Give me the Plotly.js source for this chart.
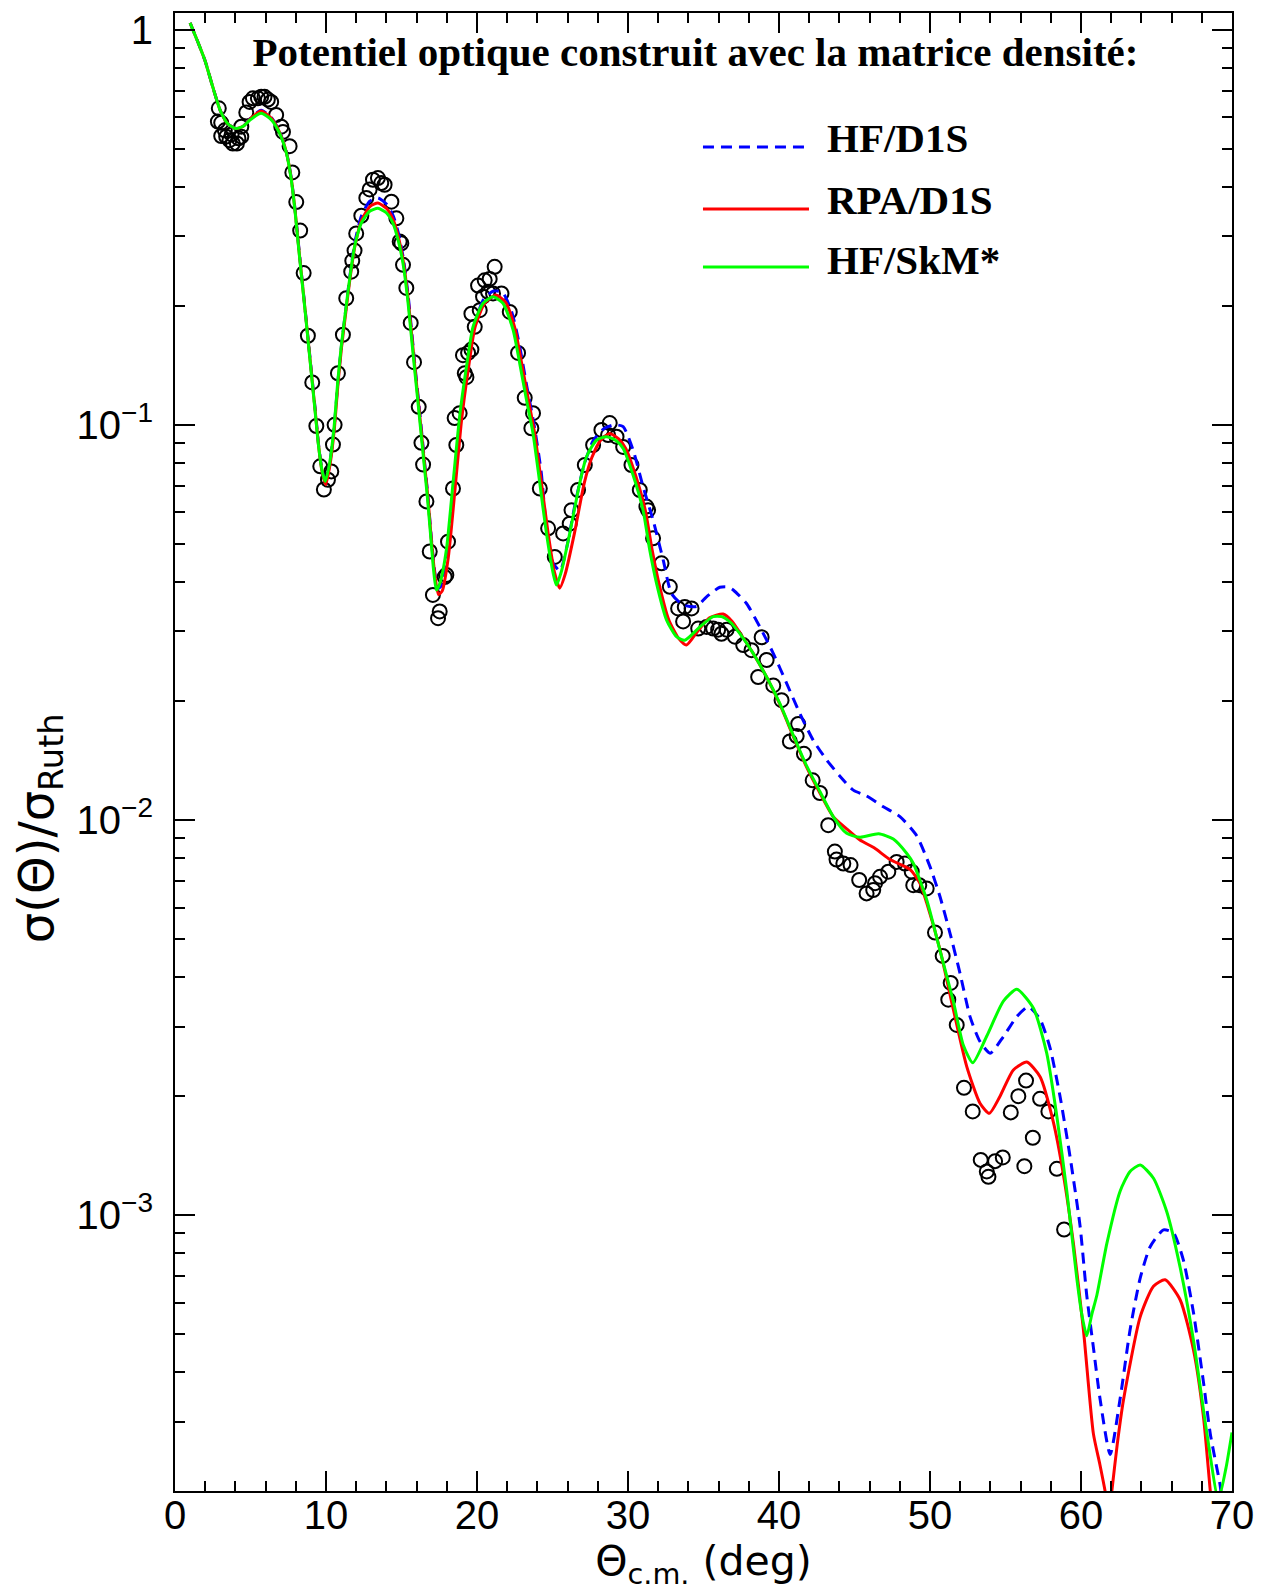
<!DOCTYPE html>
<html>
<head>
<meta charset="utf-8">
<script src="https://cdn.plot.ly/plotly-3.0.1.min.js"></script>
<style>html,body{margin:0;padding:0;background:#fff;}</style>
</head>
<body>
<div id="chart" style="width:1268px;height:1591px;"></div>
<script>
// Experimental data (open circles)
const expTheta = [2.84, 2.90, 3.06, 3.06, 3.30, 3.39, 3.61, 3.75, 3.83, 4.10,
 4.20, 4.39, 4.39, 4.72, 4.94, 5.16, 5.49, 5.71, 5.93, 6.15,
 6.37, 6.70, 7.04, 7.15, 7.59, 7.77, 8.03, 8.29, 8.52, 8.80,
 9.09, 9.36, 9.62, 9.86, 10.13, 10.35, 10.46, 10.57, 10.79, 11.12,
 11.34, 11.67, 11.74, 11.89, 12.00, 12.34, 12.67, 12.89, 13.11, 13.44,
 13.66, 13.88, 14.33, 14.66, 14.88, 14.99, 15.10, 15.32, 15.61, 15.83,
 16.14, 16.32, 16.43, 16.65, 16.87, 17.08, 17.42, 17.53, 17.86, 17.97,
 18.08, 18.41, 18.52, 18.63, 18.85, 19.07, 19.19, 19.30, 19.41, 19.63,
 19.63, 19.85, 20.07, 20.18, 20.40, 20.51, 20.73, 20.84, 21.06, 21.17,
 21.62, 22.17, 22.72, 23.16, 23.60, 23.71, 24.16, 24.71, 25.15, 25.70,
 26.14, 26.26, 26.69, 27.14, 27.69, 28.24, 28.68, 28.79, 29.24, 29.68,
 30.23, 30.78, 31.22, 31.33, 31.66, 32.22, 32.77, 33.32, 33.65, 33.76,
 34.21, 34.65, 35.20, 35.64, 35.97, 36.19, 36.53, 37.08, 37.63, 38.18,
 38.62, 38.85, 39.18, 39.62, 40.17, 40.72, 41.17, 41.27, 41.65, 42.23,
 42.71, 43.26, 43.70, 43.81, 44.26, 44.74, 45.31, 45.80, 46.24, 46.36,
 46.69, 47.24, 47.79, 48.34, 48.79, 48.89, 49.29, 49.78, 50.33, 50.84,
 51.21, 51.37, 51.77, 52.25, 52.83, 53.36, 53.76, 53.87, 54.31, 54.82,
 55.35, 55.85, 56.25, 56.36, 56.81, 57.29, 57.84, 58.40, 58.88];
const expSigma = [0.585, 0.632, 0.581, 0.538, 0.556, 0.536, 0.525, 0.543, 0.515, 0.515,
 0.531, 0.536, 0.568, 0.617, 0.656, 0.670, 0.670, 0.676, 0.676, 0.665,
 0.656, 0.608, 0.568, 0.551, 0.507, 0.435, 0.366, 0.310, 0.242, 0.168,
 0.128, 0.0993, 0.0785, 0.0686, 0.0726, 0.0762, 0.0891, 0.100, 0.135, 0.169,
 0.209, 0.244, 0.260, 0.276, 0.305, 0.338, 0.375, 0.394, 0.417, 0.421,
 0.409, 0.405, 0.367, 0.333, 0.291, 0.288, 0.254, 0.222, 0.181, 0.144,
 0.111, 0.0900, 0.0793, 0.0640, 0.0478, 0.0371, 0.0324, 0.0337, 0.0412, 0.0417,
 0.0506, 0.0690, 0.104, 0.0889, 0.107, 0.150, 0.135, 0.132, 0.152, 0.155,
 0.191, 0.177, 0.225, 0.195, 0.211, 0.232, 0.217, 0.234, 0.215, 0.251,
 0.215, 0.193, 0.152, 0.117, 0.0980, 0.107, 0.0690, 0.0547, 0.0463, 0.0531,
 0.0562, 0.0608, 0.0684, 0.0791, 0.0889, 0.0970, 0.0942, 0.101, 0.0933, 0.0879,
 0.0791, 0.0684, 0.0621, 0.0608, 0.0516, 0.0446, 0.0389, 0.0343, 0.0318, 0.0346,
 0.0343, 0.0305, 0.0308, 0.0305, 0.0303, 0.0296, 0.0303, 0.0291, 0.0277, 0.0269,
 0.0230, 0.0290, 0.0254, 0.0219, 0.0201, 0.0158, 0.0163, 0.0175, 0.0147, 0.0126,
 0.0117, 0.00970, 0.00832, 0.00794, 0.00776, 0.00769, 0.00705, 0.00652, 0.00665, 0.00692,
 0.00718, 0.00740, 0.00783, 0.00776, 0.00740, 0.00684, 0.00684, 0.00671, 0.00519, 0.00453,
 0.00351, 0.00387, 0.00303, 0.00210, 0.00183, 0.00138, 0.00129, 0.00125, 0.00137, 0.00140,
 0.00182, 0.00200, 0.00133, 0.00219, 0.00157, 0.00197, 0.00183, 0.00131, 0.000920];

// HF/D1S (blue dashed)
const hfD1sTheta = [1.0, 1.5, 2.0, 2.5, 3.0, 3.5, 4.0, 4.5, 5.0, 5.7,
 6.37, 6.92, 7.37, 7.70, 7.96, 8.18, 8.40, 8.63, 8.85, 9.07,
 9.29, 9.51, 9.73, 9.96, 10.25, 10.53, 10.80, 11.02, 11.29, 11.57,
 11.90, 12.35, 12.90, 13.44, 14.00, 14.45, 14.80, 15.12, 15.42, 15.64,
 15.86, 16.08, 16.30, 16.52, 16.74, 16.98, 17.20, 17.40, 17.65, 18.05,
 18.50, 18.93, 19.37, 19.80, 20.45, 21.10, 21.70, 22.30, 22.80, 23.30,
 23.80, 24.25, 24.60, 25.04, 25.50, 26.00, 26.50, 27.10, 27.70, 28.40,
 29.10, 29.68, 30.34, 31.00, 31.66, 32.33, 32.88, 33.65, 34.54, 35.20,
 36.08, 36.60, 36.97, 37.85, 38.73, 39.62, 40.50, 41.38, 42.27, 43.15,
 44.04, 44.92, 45.80, 46.91, 48.01, 49.12, 50.00, 50.66, 51.33, 51.99,
 52.65, 53.31, 53.98, 54.86, 55.75, 56.52, 57.29, 57.95, 58.61, 59.27,
 59.94, 60.38, 60.82, 61.26, 61.93, 62.59, 63.25, 63.92, 64.58, 65.46,
 66.12, 66.79, 67.45, 68.11, 68.56, 69.20, 69.50, 70.0];
const hfD1sSigma = [1.04, 0.933, 0.832, 0.716, 0.624, 0.578, 0.562, 0.569, 0.596, 0.625,
 0.600, 0.553, 0.492, 0.421, 0.348, 0.286, 0.236, 0.194, 0.160, 0.132,
 0.109, 0.0890, 0.0772, 0.0716, 0.0800, 0.0975, 0.130, 0.158, 0.193, 0.236,
 0.288, 0.338, 0.368, 0.375, 0.362, 0.338, 0.305, 0.264, 0.216, 0.178,
 0.145, 0.120, 0.0990, 0.0810, 0.0665, 0.0515, 0.0425, 0.0385, 0.0392, 0.0475,
 0.0700, 0.104, 0.140, 0.178, 0.208, 0.218, 0.216, 0.193, 0.160, 0.125,
 0.0990, 0.0760, 0.0550, 0.0447, 0.0427, 0.0501, 0.0631, 0.0794, 0.0912, 0.0977,
 0.100, 0.0989, 0.0863, 0.0697, 0.0574, 0.0455, 0.0374, 0.0350, 0.0347, 0.0367,
 0.0388, 0.0389, 0.0382, 0.0353, 0.0308, 0.0264, 0.0222, 0.0186, 0.0159, 0.0142,
 0.0129, 0.0119, 0.0115, 0.0108, 0.0102, 0.00912, 0.00762, 0.00640, 0.00516, 0.00409,
 0.00318, 0.00275, 0.00257, 0.00283, 0.00318, 0.00337, 0.00313, 0.00265, 0.00200, 0.00141,
 0.000938, 0.000627, 0.000463, 0.000343, 0.000248, 0.000343, 0.000513, 0.000693, 0.000832, 0.000918,
 0.000902, 0.000767, 0.000566, 0.000378, 0.000280, 0.000209, 0.000178, 0.000178];

// RPA/D1S (red)
const rpaD1sTheta = [1.0, 1.5, 2.0, 2.5, 3.0, 3.5, 4.0, 4.5, 5.0, 5.7,
 6.37, 6.92, 7.37, 7.70, 7.96, 8.18, 8.40, 8.63, 8.85, 9.07,
 9.29, 9.51, 9.73, 9.98, 10.26, 10.54, 10.81, 11.03, 11.30, 11.58,
 11.92, 12.37, 12.92, 13.44, 14.00, 14.45, 14.80, 15.12, 15.41, 15.63,
 15.85, 16.07, 16.29, 16.51, 16.74, 16.98, 17.20, 17.45, 17.70, 18.10,
 18.55, 18.98, 19.42, 19.86, 20.50, 21.25, 21.90, 22.50, 22.93, 23.38,
 23.82, 24.27, 24.70, 25.12, 25.48, 25.85, 26.45, 27.10, 27.60, 28.20,
 28.80, 29.40, 29.85, 30.50, 31.15, 31.60, 32.05, 32.70, 33.35, 33.87,
 34.60, 35.40, 36.30, 36.90, 37.45, 38.29, 39.18, 40.06, 40.94, 41.83,
 42.71, 43.59, 44.48, 45.36, 46.30, 47.35, 48.67, 49.33, 49.78, 50.66,
 51.55, 52.43, 53.31, 53.93, 54.64, 55.52, 56.41, 57.29, 58.17, 58.83,
 59.50, 60.16, 60.82, 61.25, 61.60, 61.85, 62.04, 62.40, 62.81, 63.92,
 64.80, 65.57, 66.57, 67.45, 68.11, 68.56, 69.20, 70.0];
const rpaD1sSigma = [1.04, 0.933, 0.832, 0.716, 0.624, 0.578, 0.562, 0.569, 0.595, 0.622,
 0.597, 0.550, 0.490, 0.419, 0.346, 0.284, 0.235, 0.193, 0.159, 0.131,
 0.108, 0.0885, 0.0765, 0.0705, 0.0790, 0.0965, 0.129, 0.157, 0.191, 0.233,
 0.284, 0.330, 0.357, 0.364, 0.353, 0.330, 0.298, 0.259, 0.213, 0.176,
 0.144, 0.119, 0.0980, 0.0805, 0.0660, 0.0510, 0.0420, 0.0372, 0.0380, 0.0462,
 0.0690, 0.103, 0.138, 0.176, 0.203, 0.213, 0.204, 0.176, 0.145, 0.117,
 0.0950, 0.0711, 0.0535, 0.0425, 0.0386, 0.0420, 0.0531, 0.0711, 0.0825, 0.0915,
 0.0951, 0.0920, 0.0871, 0.0745, 0.0607, 0.0482, 0.0397, 0.0321, 0.0288, 0.0277,
 0.0300, 0.0325, 0.0332, 0.0318, 0.0296, 0.0264, 0.0230, 0.0196, 0.0163, 0.0136,
 0.0117, 0.0102, 0.00950, 0.00890, 0.00850, 0.00794, 0.00750, 0.00692, 0.00617, 0.00470,
 0.00331, 0.00238, 0.00192, 0.00181, 0.00200, 0.00233, 0.00244, 0.00224, 0.00172, 0.00127,
 0.000847, 0.000513, 0.000280, 0.000234, 0.000200, 0.000174, 0.000200, 0.000263, 0.000340, 0.000553,
 0.000661, 0.000686, 0.000610, 0.000456, 0.000309, 0.000201, 0.000112, 0.000158];

// HF/SkM* (green)
const skmTheta = [1.0, 1.5, 2.0, 2.5, 3.0, 3.5, 4.0, 4.5, 5.0, 5.7,
 6.37, 6.92, 7.37, 7.70, 7.96, 8.18, 8.40, 8.63, 8.85, 9.07,
 9.29, 9.51, 9.73, 9.95, 10.24, 10.52, 10.79, 11.01, 11.28, 11.56,
 11.89, 12.34, 12.89, 13.44, 13.99, 14.43, 14.77, 15.10, 15.39, 15.61,
 15.83, 16.05, 16.27, 16.49, 16.71, 16.95, 17.13, 17.31, 17.55, 17.97,
 18.41, 18.85, 19.30, 19.74, 20.40, 21.06, 21.72, 22.39, 22.83, 23.27,
 23.71, 24.16, 24.60, 25.04, 25.26, 25.60, 26.14, 26.80, 27.25, 27.91,
 28.57, 29.20, 29.68, 30.34, 31.00, 31.44, 31.89, 32.55, 33.21, 33.76,
 34.76, 35.64, 36.20, 36.80, 37.41, 38.29, 39.18, 40.06, 40.94, 41.83,
 42.71, 43.59, 44.48, 45.36, 46.60, 47.57, 48.45, 48.90, 49.78, 50.66,
 51.55, 52.21, 52.83, 53.76, 54.86, 55.75, 56.85, 57.73, 58.39, 59.06,
 59.72, 60.05, 60.38, 60.72, 61.05, 61.71, 62.59, 63.25, 63.92, 64.80,
 65.68, 66.57, 67.45, 68.34, 69.10, 69.60, 70.0];
const skmSigma = [1.04, 0.933, 0.832, 0.716, 0.624, 0.578, 0.562, 0.569, 0.592, 0.614,
 0.592, 0.547, 0.488, 0.417, 0.344, 0.282, 0.233, 0.192, 0.158, 0.130,
 0.107, 0.0881, 0.0769, 0.0719, 0.0800, 0.0973, 0.130, 0.158, 0.192, 0.233,
 0.282, 0.324, 0.347, 0.353, 0.344, 0.324, 0.294, 0.256, 0.211, 0.174,
 0.143, 0.118, 0.0973, 0.0800, 0.0659, 0.0513, 0.0427, 0.0382, 0.0398, 0.0482,
 0.0711, 0.105, 0.140, 0.177, 0.203, 0.211, 0.203, 0.174, 0.143, 0.116,
 0.0951, 0.0711, 0.0531, 0.0421, 0.0393, 0.0427, 0.0531, 0.0711, 0.0830, 0.0914,
 0.0933, 0.0912, 0.0871, 0.0745, 0.0607, 0.0482, 0.0397, 0.0321, 0.0291, 0.0285,
 0.0308, 0.0327, 0.0327, 0.0316, 0.0296, 0.0264, 0.0230, 0.0197, 0.0164, 0.0137,
 0.0118, 0.0102, 0.00925, 0.00904, 0.00923, 0.00895, 0.00824, 0.00776, 0.00628, 0.00468,
 0.00347, 0.00269, 0.00243, 0.00284, 0.00348, 0.00373, 0.00334, 0.00257, 0.00179, 0.00115,
 0.000693, 0.000562, 0.000495, 0.000562, 0.000627, 0.000847, 0.00115, 0.00129, 0.00134, 0.00124,
 0.00102, 0.000736, 0.000482, 0.000280, 0.000191, 0.000229, 0.000282];

// Axis ticks
const xMajorTicks = [0, 10, 20, 30, 40, 50, 60, 70];
const yMajorTicks = [0.001, 0.01, 0.1, 1];
const yTickLabels = ['10<sup>\u22123</sup>', '10<sup>\u22122</sup>', '10<sup>\u22121</sup>', '1'];
const yMinorTicks = [];
[0.0001, 0.001, 0.01, 0.1].forEach(function (d) {
  for (let k = 2; k <= 9; k++) yMinorTicks.push(+(k * d).toPrecision(3));
});

const seriesNames = ['HF/D1S', 'RPA/D1S', 'HF/SkM*'];
const seriesColors = ['#0000ff', '#ff0000', '#00ff00'];
const seriesDash = ['11px,7px', 'solid', 'solid'];

const traces = [
  {
    x: expTheta, y: expSigma, type: 'scatter', mode: 'markers', name: 'Exp.',
    marker: {symbol: 'circle-open', size: 14, color: '#000000', line: {width: 2, color: '#000000'}}
  },
  {
    x: hfD1sTheta, y: hfD1sSigma, type: 'scatter', mode: 'lines', name: seriesNames[0],
    line: {color: seriesColors[0], width: 3, dash: seriesDash[0], shape: 'spline', smoothing: 0.6}
  },
  {
    x: rpaD1sTheta, y: rpaD1sSigma, type: 'scatter', mode: 'lines', name: seriesNames[1],
    line: {color: seriesColors[1], width: 3, shape: 'spline', smoothing: 0.6}
  },
  {
    x: skmTheta, y: skmSigma, type: 'scatter', mode: 'lines', name: seriesNames[2],
    line: {color: seriesColors[2], width: 3, shape: 'spline', smoothing: 0.6}
  }
];

// Legend drawn in the style of the original (long line samples + bold serif labels)
const legendY = [0.9093, 0.8674, 0.8281];
const legendTextY = [0.9155, 0.8738, 0.8332];
const shapes = [];
const annotations = [];
for (let i = 0; i < 3; i++) {
  shapes.push({
    type: 'line', xref: 'paper', yref: 'paper', x0: 0.4995, x1: 0.5998, y0: legendY[i], y1: legendY[i],
    line: {color: seriesColors[i], width: 3, dash: seriesDash[i]}
  });
  annotations.push({
    xref: 'paper', yref: 'paper', x: 0.615, y: legendTextY[i], xanchor: 'left', yanchor: 'middle',
    showarrow: false, text: '<b>' + seriesNames[i] + '</b>',
    font: {family: 'Liberation Serif, Times New Roman, serif', size: 41, color: '#000000'}
  });
}

const axisCommon = {
  showline: true, linecolor: '#000000', linewidth: 2, mirror: 'ticks',
  ticks: 'inside', ticklen: 20, tickwidth: 2, tickcolor: '#000000',
  showgrid: false, zeroline: false,
  tickfont: {family: 'Liberation Sans, Arial, sans-serif', size: 40, color: '#000000'}
};

const layout = {
  width: 1268, height: 1591,
  margin: {l: 175, r: 36, t: 13, b: 100, pad: 0},
  paper_bgcolor: '#ffffff', plot_bgcolor: '#ffffff',
  showlegend: false,
  title: {
    text: '<b>Potentiel optique construit avec la matrice densité:</b>',
    font: {family: 'Liberation Serif, Times New Roman, serif', size: 41, color: '#000000'},
    x: 0.5485, xanchor: 'center', y: 0.9673, yanchor: 'middle'
  },
  xaxis: Object.assign({}, axisCommon, {
    range: [0, 70], tickmode: 'array', tickvals: xMajorTicks,
    ticklabelstandoff: -12,
    minor: {dtick: 2, tick0: 0, ticks: 'inside', ticklen: 10, tickwidth: 2, tickcolor: '#000000', showgrid: false},
    title: {text: '\u0398<sub>c.m.</sub> (deg)', standoff: 12,
      font: {family: 'DejaVu Sans, sans-serif', size: 41, color: '#000000'}}
  }),
  yaxis: Object.assign({}, axisCommon, {
    type: 'log', range: [-3.698, 0.042], tickmode: 'array', tickvals: yMajorTicks, ticktext: yTickLabels,
    ticklabelstandoff: 12,
    minor: {tickmode: 'array', tickvals: yMinorTicks, ticks: 'inside', ticklen: 10, tickwidth: 2, tickcolor: '#000000', showgrid: false},
    title: {text: '\u03c3(\u0398)/\u03c3<sub>Ruth</sub>&nbsp;&nbsp;&nbsp;&nbsp;&nbsp;&nbsp;&nbsp;&nbsp;&nbsp;&nbsp;', standoff: 8,
      font: {family: 'DejaVu Sans, sans-serif', size: 48, color: '#000000'}}
  }),
  shapes: shapes,
  annotations: annotations
};

Plotly.newPlot('chart', traces, layout, {displayModeBar: false, staticPlot: true});
</script>
</body>
</html>
